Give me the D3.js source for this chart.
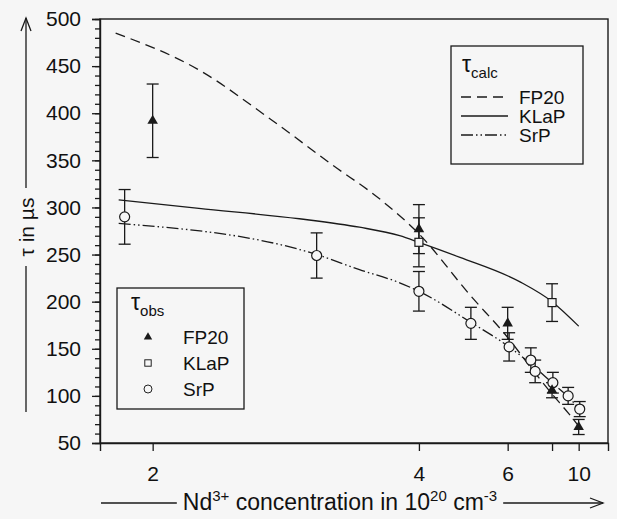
<!DOCTYPE html>
<html>
<head>
<meta charset="utf-8">
<script src="https://cdn.jsdelivr.net/npm/d3@7"></script>
<style>
  body { margin: 0; background: #f6f6f6; }
  text { font-family: "Liberation Sans", Arial, sans-serif; fill: #111; }
</style>
</head>
<body>
<svg id="chart" width="617" height="519"></svg>
<script>
// concentration axis (10^20 cm^-3), reciprocal scale
const xDomain = [1.82, 13.8];
const xTicks = [2, 4, 6, 8, 10];
const xTickLabels = ['2', '4', '6', '', '10'];
const yDomain = [50, 500];
const yTicks = [50, 100, 150, 200, 250, 300, 350, 400, 450, 500];
const yMinorTicks = d3.range(50, 501, 10);

// calculated lifetimes [c, tau]
const fp20Calc = [[1.87, 485], [2.19, 446], [2.55, 396], [3.02, 345], [3.5, 308], [4.0, 272], [4.95, 207], [6.0, 162], [7.0, 127], [8.0, 102], [9.1, 82], [10.0, 68]];
const klapCalc = [[1.88, 308], [2.19, 299], [2.76, 288], [3.27, 279], [3.73, 270], [4.0, 263], [4.73, 247], [6.45, 221], [8.0, 200], [10.0, 174]];
const srpCalc = [[1.88, 283], [2.89, 250], [3.27, 234], [3.73, 220], [4.0, 211], [4.97, 178], [6.05, 152], [7.0, 132], [8.0, 114], [9.1, 99], [10.0, 87]];

// observed lifetimes [c, tau, error]
const fp20Obs = [[2.0, 392, 39], [4.0, 277, 26], [6.0, 177, 17], [8.0, 106, 8], [10.0, 67, 8]];
const klapObs = [[4.0, 263, 26], [8.0, 199, 20]];
const srpObs = [[1.9, 290, 29], [2.89, 249, 24], [4.0, 211, 21], [4.97, 177, 17], [6.05, 152, 15], [6.9, 138, 13], [7.1, 126, 12], [8.05, 114, 11], [9.1, 100, 9], [10.1, 86, 8]];

const seriesNames = ['FP20', 'KLaP', 'SrP'];
const dashes = ['10,6', null, '12,3,1.5,3,1.5,3'];

const W = 617, H = 519;
const m = { top: 19, right: 9, bottom: 76, left: 100 };
const ink = '#1a1a1a', bg = '#f6f6f6';

const svg = d3.select('#chart');
svg.append('rect').attr('width', W).attr('height', H).attr('fill', bg);

const x = d3.scalePow().exponent(-1).domain(xDomain).range([m.left, W - m.right]);
const y = d3.scaleLinear().domain(yDomain).range([H - m.bottom, m.top]);

// frame
svg.append('rect')
  .attr('x', m.left).attr('y', m.top)
  .attr('width', W - m.right - m.left).attr('height', H - m.bottom - m.top)
  .attr('fill', 'none').attr('stroke', ink).attr('stroke-width', 1.4);

// axes
svg.append('g').attr('transform', `translate(${m.left},0)`)
  .call(d3.axisLeft(y).tickValues(yTicks).tickSize(8).tickPadding(11));
svg.append('g').attr('transform', `translate(${m.left},0)`)
  .call(d3.axisLeft(y).tickValues(yMinorTicks).tickSize(5).tickFormat(''))
  .select('.domain').remove();
svg.append('g').attr('transform', `translate(0,${H - m.bottom})`)
  .call(d3.axisBottom(x).tickValues(xTicks).tickSize(8).tickPadding(15)
    .tickFormat((d, i) => xTickLabels[i]));

svg.selectAll('.tick line').attr('stroke', ink).attr('stroke-width', 1.3);
svg.selectAll('.domain').attr('stroke', ink).attr('stroke-width', 1.4);
svg.selectAll('.tick text').attr('font-size', 21).attr('fill', ink)
  .style('font-family', '"Liberation Sans", Arial, sans-serif');

// curves
const line = d3.line().x(d => x(d[0])).y(d => y(d[1])).curve(d3.curveMonotoneX);
[fp20Calc, klapCalc, srpCalc].forEach((s, i) => {
  svg.append('path').datum(s)
    .attr('d', line)
    .attr('fill', 'none')
    .attr('stroke', ink)
    .attr('stroke-width', 1.3)
    .attr('stroke-dasharray', dashes[i]);
});

// error bars
const cap = 6;
[fp20Obs, klapObs, srpObs].forEach(s => {
  const g = svg.append('g').attr('stroke', ink).attr('stroke-width', 1.3);
  s.forEach(d => {
    const cx = x(d[0]), y0 = y(d[1] - d[2]), y1 = y(d[1] + d[2]);
    g.append('line').attr('x1', cx).attr('x2', cx).attr('y1', y0).attr('y2', y1);
    g.append('line').attr('x1', cx - cap).attr('x2', cx + cap).attr('y1', y0).attr('y2', y0);
    g.append('line').attr('x1', cx - cap).attr('x2', cx + cap).attr('y1', y1).attr('y2', y1);
  });
});

// markers
function marker(sel, i) {
  if (i === 0) {
    sel.append('path').attr('d', d3.symbol(d3.symbolTriangle, 48)).attr('fill', ink);
  } else if (i === 1) {
    sel.append('rect').attr('x', -4).attr('y', -4).attr('width', 8).attr('height', 8)
      .attr('fill', bg).attr('stroke', ink).attr('stroke-width', 1.2);
  } else {
    sel.append('circle').attr('r', 5).attr('fill', bg).attr('stroke', ink).attr('stroke-width', 1.2);
  }
}
[srpObs, klapObs, fp20Obs].forEach((s, k) => {
  const i = 2 - k;
  s.forEach(d => {
    const g = svg.append('g').attr('transform', `translate(${x(d[0])},${y(d[1])})`);
    marker(g, i);
  });
});

// legend: calculated
const lc = svg.append('g');
lc.append('rect').attr('x', 451).attr('y', 46).attr('width', 132).attr('height', 118)
  .attr('fill', bg).attr('stroke', ink).attr('stroke-width', 1.3);
const tc = lc.append('text').attr('x', 462).attr('y', 72).attr('font-size', 23);
tc.append('tspan').text('τ');
tc.append('tspan').attr('font-size', 15).attr('dy', 6).text('calc');
seriesNames.forEach((n, i) => {
  const yy = 97 + i * 19;
  lc.append('line').attr('x1', 461).attr('x2', 508).attr('y1', yy).attr('y2', yy)
    .attr('stroke', ink).attr('stroke-width', 1.3).attr('stroke-dasharray', dashes[i]);
  lc.append('text').attr('x', 519).attr('y', yy).attr('dy', '0.36em')
    .attr('font-size', 19).text(n);
});

// legend: observed
const lo = svg.append('g');
lo.append('rect').attr('x', 117).attr('y', 288).attr('width', 127).attr('height', 121)
  .attr('fill', bg).attr('stroke', ink).attr('stroke-width', 1.3);
const to = lo.append('text').attr('x', 131).attr('y', 310).attr('font-size', 23);
to.append('tspan').text('τ');
to.append('tspan').attr('font-size', 15).attr('dy', 6).text('obs');
seriesNames.forEach((n, i) => {
  const yy = 337 + i * 26;
  const g = lo.append('g').attr('transform', `translate(148,${yy}) scale(0.8)`);
  marker(g, i);
  lo.append('text').attr('x', 183).attr('y', yy).attr('dy', '0.36em')
    .attr('font-size', 19).text(n);
});

// axis titles with arrows
function arrowHead(g, x0, y0, dir) {
  const p = dir === 'up'
    ? `M${x0 - 5},${y0 + 13}L${x0},${y0}L${x0 + 5},${y0 + 13}`
    : `M${x0 - 13},${y0 - 5}L${x0},${y0}L${x0 - 13},${y0 + 5}`;
  g.append('path').attr('d', p).attr('fill', 'none').attr('stroke', ink).attr('stroke-width', 1.3);
}

const yt = svg.append('g');
yt.append('text').attr('transform', 'translate(34,227) rotate(-90)')
  .attr('text-anchor', 'middle').attr('font-size', 21).text('τ in µs');
yt.append('line').attr('x1', 26).attr('x2', 26).attr('y1', 188).attr('y2', 18)
  .attr('stroke', ink).attr('stroke-width', 1.3);
arrowHead(yt, 26, 18, 'up');
yt.append('line').attr('x1', 26).attr('x2', 26).attr('y1', 266).attr('y2', 412)
  .attr('stroke', ink).attr('stroke-width', 1.3);

const xt = svg.append('g');
const title = xt.append('text').attr('x', 340).attr('y', 510)
  .attr('text-anchor', 'middle').attr('font-size', 23);
title.append('tspan').text('Nd');
title.append('tspan').attr('font-size', 15).attr('dy', -9).text('3+');
title.append('tspan').attr('dy', 9).text(' concentration in 10');
title.append('tspan').attr('font-size', 15).attr('dy', -9).text('20');
title.append('tspan').attr('dy', 9).text(' cm');
title.append('tspan').attr('font-size', 15).attr('dy', -9).text('-3');
const bb = title.node().getBBox();
xt.append('line').attr('x1', 101).attr('x2', bb.x - 6).attr('y1', 503).attr('y2', 503)
  .attr('stroke', ink).attr('stroke-width', 1.3);
xt.append('line').attr('x1', bb.x + bb.width + 6).attr('x2', 603).attr('y1', 503).attr('y2', 503)
  .attr('stroke', ink).attr('stroke-width', 1.3);
arrowHead(xt, 603, 503, 'right');
</script>
</body>
</html>
